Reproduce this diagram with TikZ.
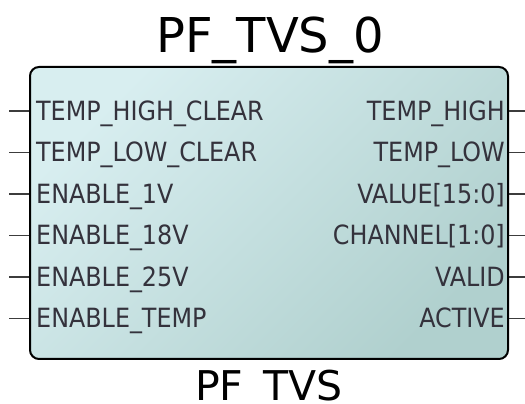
\documentclass[tikz,border=0pt]{standalone}
\usepackage{fontspec}
\setmainfont{DejaVu Sans}
\newfontfamily\condfont{DejaVu Sans Condensed}
\definecolor{fillA}{RGB}{216,238,240}
\definecolor{fillB}{RGB}{176,208,206}
\definecolor{pintext}{RGB}{52,50,60}
\definecolor{pinline}{RGB}{60,60,60}
\tikzset{
  blockbox/.style={draw=black, line width=2pt, rounded corners=9pt,
    minimum width=478pt, minimum height=292pt, inner sep=0pt,
    top color=fillA, bottom color=fillB, shading angle=45},
  pinlabel/.style={inner sep=0pt, text=pintext, font=\condfont\fontsize{26.5}{30}\selectfont},
  pinwire/.style={draw=pinline, line width=1.3pt},
  titletext/.style={inner sep=0pt, font=\fontsize{48}{56}\selectfont},
  typetext/.style={inner sep=0pt, font=\fontsize{41}{48}\selectfont}
}
\begin{document}
\begin{tikzpicture}[x=1pt,y=1pt]
\useasboundingbox (0,0) rectangle (525,404);
% rows (y-up): 404 - {111,152.5,194,235.5,277,318.5}
\coordinate (l1) at (9,293);
\coordinate (l2) at (9,251.5);
\coordinate (l3) at (9,210);
\coordinate (l4) at (9,168.5);
\coordinate (l5) at (9,127);
\coordinate (l6) at (9,85.5);
\coordinate (r1) at (525,293);
\coordinate (r2) at (525,251.5);
\coordinate (r3) at (525,210);
\coordinate (r4) at (525,168.5);
\coordinate (r5) at (525,127);
\coordinate (r6) at (525,85.5);
\node[blockbox] (box) at (269,191) {};
\foreach \i in {1,...,6}{
  \draw[pinwire] (l\i) -- (box.west |- l\i);
  \draw[pinwire] (r\i) -- (box.east |- r\i);
}
\node[titletext, anchor=base] (title) at (270,351) {PF\_TVS\_0};
\node[typetext, anchor=base] (type) at (269,3) {PF\_TVS};
\node[pinlabel, anchor=base west] (a1) at (36,283.5) {TEMP\_HIGH\_CLEAR};
\node[pinlabel, anchor=base west] (a2) at (36,242) {TEMP\_LOW\_CLEAR};
\node[pinlabel, anchor=base west] (a3) at (36,200.5) {ENABLE\_1V};
\node[pinlabel, anchor=base west] (a4) at (36,159) {ENABLE\_18V};
\node[pinlabel, anchor=base west] (a5) at (36,117.5) {ENABLE\_25V};
\node[pinlabel, anchor=base west] (a6) at (36,76) {ENABLE\_TEMP};
\node[pinlabel, anchor=base east] (b1) at (505,283.5) {TEMP\_HIGH};
\node[pinlabel, anchor=base east] (b2) at (505,242) {TEMP\_LOW};
\node[pinlabel, anchor=base east] (b3) at (505,200.5) {VALUE[15:0]};
\node[pinlabel, anchor=base east] (b4) at (505,159) {CHANNEL[1:0]};
\node[pinlabel, anchor=base east] (b5) at (505,117.5) {VALID};
\node[pinlabel, anchor=base east] (b6) at (505,76) {ACTIVE};
\end{tikzpicture}
\end{document}
